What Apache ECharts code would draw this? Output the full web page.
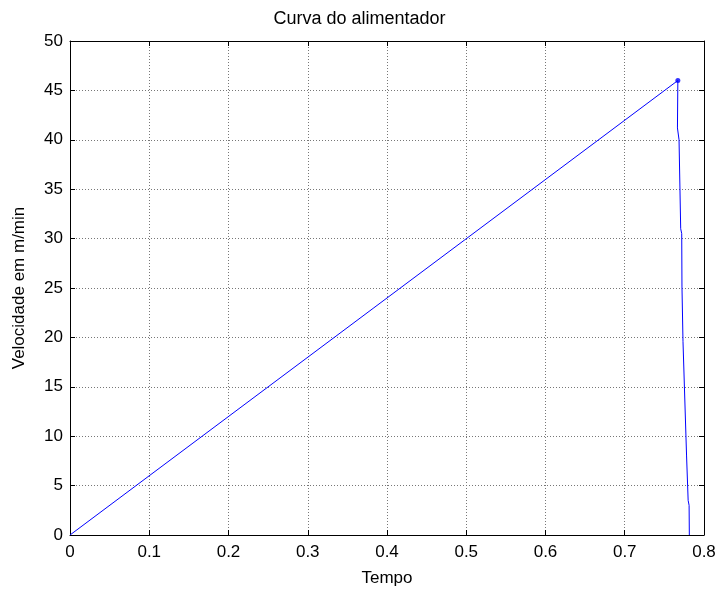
<!DOCTYPE html>
<html>
<head>
<meta charset="utf-8">
<script src="https://cdn.jsdelivr.net/npm/echarts@6/dist/echarts.min.js"></script>
<style>
    html, body { margin: 0; padding: 0; background: #fff; }
    #chart { width: 719px; height: 592px; }
</style>
</head>
<body>
<div id="chart"></div>
<script>
// valores
const tempo = [0, 0.7670, 0.7665, 0.7685, 0.7706, 0.7719, 0.7722, 0.7729, 0.7735, 0.7750, 0.7780, 0.7800, 0.7812, 0.7815]
const velocidade = [0, 46, 41.2, 40, 31, 30.5, 25.2, 25, 19.6, 19.4, 8, 3.5, 3, 0]
const pico = [0.7670, 46]
const xTicks = [0, 0.1, 0.2, 0.3, 0.4, 0.5, 0.6, 0.7, 0.8]
const yTicks = [0, 5, 10, 15, 20, 25, 30, 35, 40, 45, 50]

const fonte = 'Liberation Sans, Arial, sans-serif'
const tamFonte = 17
let chart = echarts.init(document.getElementById('chart'))

let eixoBase = {
    axisLine: { show: true, onZero: false, lineStyle: { color: '#000', width: 1 } },
    axisTick: { show: true, inside: true, length: 5, lineStyle: { color: '#000' } },
    axisLabel: { color: '#000', fontSize: tamFonte, fontFamily: fonte }
}

let option = {
    animation: false,
    title: {
        text: 'Curva do alimentador',
        left: 'center',
        top: 10,
        padding: 0,
        textStyle: { fontSize: 18, fontWeight: 'normal', color: '#000', fontFamily: fonte }
    },
    grid: { left: 70, right: 15, top: 41, bottom: 53 },
    xAxis: [{
        ...eixoBase,
        type: 'value',
        min: 0,
        max: 0.8,
        interval: 0.1,
        name: 'Tempo',
        nameLocation: 'middle',
        nameGap: 35,
        nameTextStyle: { fontSize: tamFonte, color: '#000', fontFamily: fonte },
        axisLabel: { ...eixoBase.axisLabel, margin: 9, formatter: v => xTicks.includes(Math.round(v * 10) / 10) ? String(Math.round(v * 10) / 10) : '' },
        splitLine: { show: true, lineStyle: { color: '#777', type: [1, 2], width: 1 } }
    }, {
        ...eixoBase,
        type: 'value',
        position: 'top',
        min: 0,
        max: 0.8,
        interval: 0.1,
        axisLabel: { show: false },
        splitLine: { show: false }
    }],
    yAxis: [{
        ...eixoBase,
        type: 'value',
        min: 0,
        max: 50,
        interval: 5,
        name: 'Velocidade em m/min',
        nameLocation: 'middle',
        nameGap: 42,
        nameTextStyle: { fontSize: tamFonte, color: '#000', fontFamily: fonte },
        axisLabel: { ...eixoBase.axisLabel, margin: 7, formatter: v => yTicks.includes(v) ? String(v) : '' },
        splitLine: { show: true, lineStyle: { color: '#777', type: [1, 2], width: 1 } }
    }, {
        ...eixoBase,
        type: 'value',
        position: 'right',
        min: 0,
        max: 50,
        interval: 5,
        axisLabel: { show: false },
        splitLine: { show: false }
    }],
    series: [{
        type: 'line',
        data: tempo.map((t, i) => [t, velocidade[i]]),
        showSymbol: false,
        lineStyle: { color: '#0000ff', width: 1 },
        z: 3
    }, {
        type: 'scatter',
        data: [pico],
        symbolSize: 5,
        itemStyle: { color: '#0000ff' },
        z: 4
    }]
}
chart.setOption(option)
</script>
</body>
</html>
